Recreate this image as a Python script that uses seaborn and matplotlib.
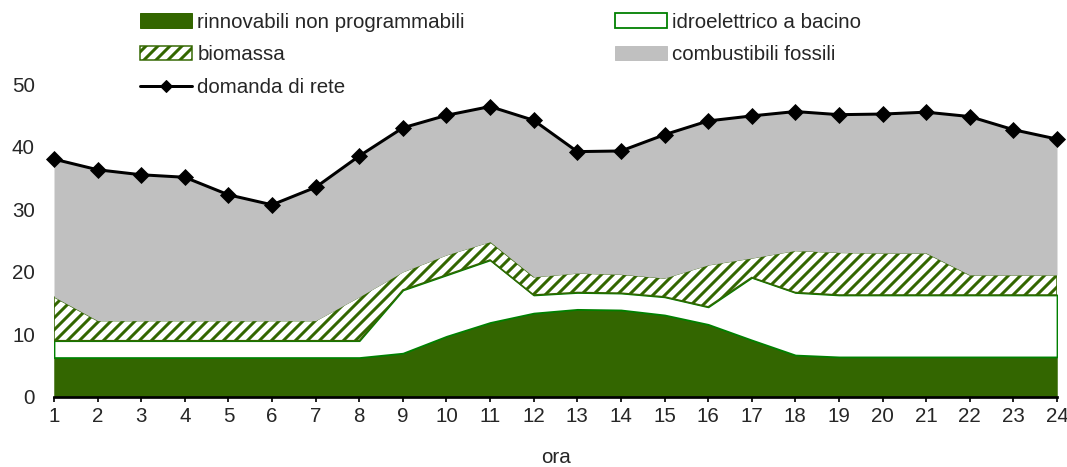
import numpy as np
import matplotlib
matplotlib.use('Agg')
import matplotlib.pyplot as plt
import pandas as pd
import seaborn as sns
from matplotlib.patches import Patch
from matplotlib.lines import Line2D

# ore del giorno
ore = list(range(1, 25))

# contributi (GW)
rinnovabili = [6.3, 6.3, 6.3, 6.3, 6.3, 6.3, 6.3, 6.3, 7.0, 9.7, 11.9, 13.4,
               14.0, 13.9, 13.1, 11.6, 9.1, 6.7, 6.4, 6.4, 6.4, 6.4, 6.4, 6.4]
idro_bacino = [2.7, 2.7, 2.7, 2.7, 2.7, 2.7, 2.7, 2.7, 10.1, 9.8, 10.0, 2.9,
               2.7, 2.7, 2.9, 2.8, 10.0, 10.0, 9.9, 9.9, 9.9, 9.9, 9.9, 9.9]
biomassa = [7.0, 3.2, 3.2, 3.2, 3.2, 3.2, 3.2, 7.0, 2.9, 3.2, 2.9, 2.9,
            3.1, 3.0, 3.0, 6.7, 3.1, 6.7, 6.8, 6.7, 6.7, 3.2, 3.2, 3.2]
fossili = [22.0, 24.1, 23.3, 22.9, 20.1, 18.5, 21.3, 22.5, 23.0, 22.3, 21.6, 25.0,
           19.4, 19.7, 22.9, 23.0, 22.7, 22.2, 22.0, 22.2, 22.5, 25.3, 23.2, 21.7]
domanda = [38.0, 36.3, 35.5, 35.1, 32.3, 30.7, 33.5, 38.5, 43.0, 45.0, 46.4, 44.2,
           39.2, 39.3, 41.9, 44.1, 44.9, 45.6, 45.1, 45.2, 45.5, 44.8, 42.7, 41.2]

sns.set_style('white')
plt.rcParams['font.family'] = ['Liberation Sans', 'DejaVu Sans']
plt.rcParams['hatch.linewidth'] = 3.0

verde_scuro = '#336600'
verde = '#008000'
grigio = '#c0c0c0'
fs = 20.5

df = pd.DataFrame({'ora': ore, 'rinn': rinnovabili, 'idro': idro_bacino,
                   'bio': biomassa, 'foss': fossili, 'domanda': domanda})
s1 = df['rinn']
s2 = s1 + df['idro']
s3 = s2 + df['bio']
s4 = s3 + df['foss']

fig = plt.figure(figsize=(1067 / 72, 467 / 72), dpi=72)
ax = fig.add_axes([54 / 1067, 1 - 397 / 467, (1057 - 54) / 1067, (397 - 84) / 467])

ax.fill_between(df['ora'], 0, s1, facecolor=verde_scuro, edgecolor=verde_scuro, lw=0.5)
ax.fill_between(df['ora'], s1, s2, facecolor='white', edgecolor=verde, lw=1.8)
ax.fill_between(df['ora'], s2, s3, facecolor='white', edgecolor=verde_scuro, hatch='//', lw=1.5)
ax.fill_between(df['ora'], s3, s4, facecolor=grigio, edgecolor=grigio, lw=0)

sns.lineplot(data=df, x='ora', y='domanda', ax=ax, color='black', lw=3,
             marker='D', markersize=12, markeredgecolor='black', clip_on=False, zorder=5)

ax.set_xlim(1, 24)
ax.set_ylim(0, 50)
ax.set_xticks(ore)
ax.set_yticks([0, 10, 20, 30, 40, 50])
for s in ['top', 'right', 'left']:
    ax.spines[s].set_visible(False)
ax.spines['bottom'].set_linewidth(2.7)
ax.spines['bottom'].set_color('black')
ax.spines['bottom'].set_zorder(6)
ax.tick_params(axis='x', direction='out', length=5, width=2, pad=5, labelsize=fs, bottom=True)
ax.tick_params(axis='y', length=0, pad=19, labelsize=fs)
ax.set_xlabel('ora', fontsize=fs, labelpad=22)
ax.set_ylabel('')

handles = [
    Patch(facecolor=verde_scuro, edgecolor=verde_scuro),
    Patch(facecolor='white', edgecolor=verde_scuro, hatch='//', lw=1.5),
    Line2D([0], [0], color='black', lw=3, marker='D', markersize=9),
    Patch(facecolor='white', edgecolor=verde, lw=1.8),
    Patch(facecolor=grigio, edgecolor=grigio),
]
labels = ['rinnovabili non programmabili', 'biomassa', 'domanda di rete',
          'idroelettrico a bacino', 'combustibili fossili']
fig.legend(handles, labels, ncol=2, loc='upper left', bbox_to_anchor=(140 / 1067, 1 - 12.5 / 467),
           frameon=False, fontsize=fs, handlelength=2.55, handletextpad=0.25,
           labelspacing=0.67, columnspacing=7.3, borderpad=0, borderaxespad=0)

fig.savefig('out.png', dpi=72)
